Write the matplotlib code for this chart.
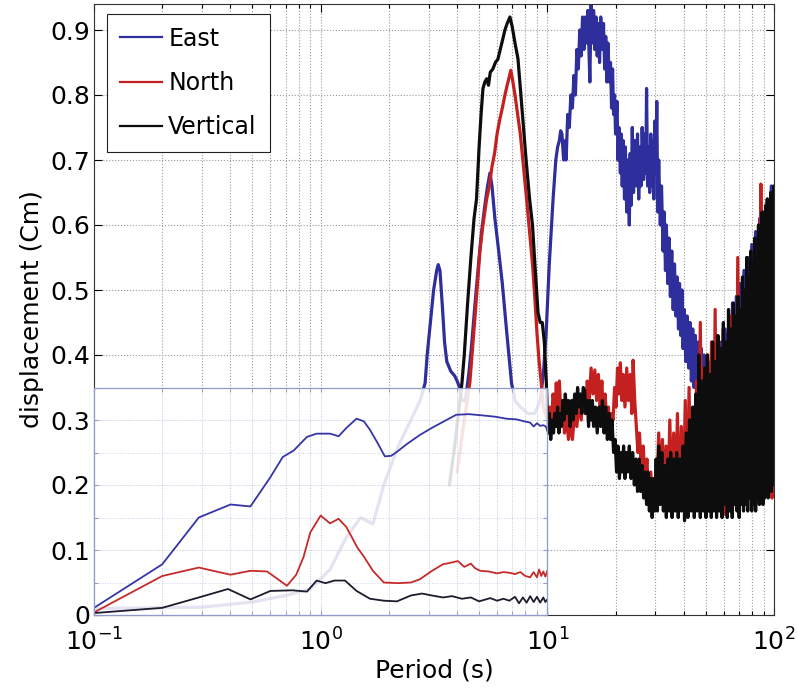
import matplotlib
matplotlib.use("Agg")
import matplotlib.pyplot as plt
from matplotlib.ticker import FuncFormatter, LogLocator, NullFormatter, MultipleLocator
import numpy as np

plt.rcParams['font.family'] = ['DejaVu Sans']

# ---- main traces (Period in s, displacement in Cm) ----
east_x = [0.1, 0.3, 0.5, 0.7, 0.9, 1.1, 1.3, 1.5, 1.7, 1.9, 2.2, 2.5, 2.75, 2.89, 2.95, 3.05, 3.15, 3.25, 3.3, 3.36,
          3.45, 3.52, 3.6, 3.75, 3.9, 4.0, 4.1, 4.2, 4.35, 4.5, 4.62, 4.8, 5.0, 5.13, 5.3, 5.45, 5.58, 5.7, 5.87, 6.1,
          6.33, 6.6, 6.95, 7.2, 7.6, 8.2, 8.8, 9.3, 9.6, 9.88, 10.2, 10.6, 10.9, 11.1, 11.3, 11.45, 11.6, 11.8, 12.0, 12.1,
          12.3, 12.5, 12.7, 12.9, 13.1, 13.3, 13.5, 13.7, 13.9, 14.1, 14.3, 14.5, 14.7, 14.9, 15.1, 15.3, 15.4, 15.6, 15.8, 16.0,
          16.2, 16.4, 16.6, 16.8, 17.0, 17.2, 17.5, 17.7, 17.9, 18.1, 18.3, 18.5, 18.8, 19.0, 19.2, 19.4, 19.6, 19.8, 20.0, 20.3,
          20.5, 20.7, 21.0, 21.2, 21.4, 21.6, 21.9, 22.1, 22.4, 22.7, 23.0, 23.2, 23.4, 23.7, 24.0, 24.3, 24.7, 25.0, 25.3, 25.6,
          25.9, 26.2, 26.6, 26.9, 27.2, 27.4, 27.7, 28.0, 28.3, 28.6, 28.9, 29.2, 29.5, 29.8, 30.1, 30.4, 30.7, 31.0, 31.5, 31.9,
          32.4, 32.8, 33.2, 33.5, 34.0, 34.4, 34.9, 35.4, 35.9, 36.4, 36.9, 37.4, 37.9, 38.3, 38.8, 39.3, 39.7, 40.2, 40.8, 41.4,
          42.0, 42.6, 43.2, 43.8, 44.4, 45.0, 45.7, 46.4, 47.1, 47.8, 48.5, 49.2, 49.9, 50.8, 51.7, 52.6, 53.5, 54.5, 55.5, 56.5,
          57.5, 58.6, 59.7, 60.8, 62.0, 63.2, 64.4, 65.6, 66.9, 68.2, 69.5, 70.9, 72.3, 73.7, 75.2, 76.7, 78.2, 79.8, 81.4, 83.0,
          84.7, 86.4, 88.1, 89.9, 91.7, 93.5, 95.4, 97.3, 99.2, 100.0]
east_y = [0.01, 0.012, 0.02, 0.03, 0.04, 0.07, 0.12, 0.15, 0.14, 0.2, 0.26, 0.3, 0.33, 0.357, 0.40, 0.45, 0.50, 0.53, 0.539, 0.53,
          0.47, 0.42, 0.39, 0.375, 0.368, 0.36, 0.35, 0.33, 0.33, 0.37, 0.41, 0.48, 0.55, 0.59, 0.63, 0.66, 0.68, 0.66, 0.61, 0.56,
          0.51, 0.44, 0.357, 0.33, 0.32, 0.31, 0.31, 0.33, 0.37, 0.434, 0.54, 0.64, 0.70, 0.72, 0.73, 0.745, 0.74, 0.70, 0.73, 0.70,
          0.77, 0.75, 0.80, 0.78, 0.83, 0.80, 0.87, 0.84, 0.90, 0.86, 0.92, 0.87, 0.92, 0.88, 0.93, 0.86, 0.82, 0.94, 0.88, 0.93,
          0.87, 0.92, 0.86, 0.91, 0.85, 0.92, 0.87, 0.91, 0.84, 0.89, 0.82, 0.88, 0.82, 0.85, 0.78, 0.84, 0.77, 0.80, 0.74, 0.79,
          0.70, 0.75, 0.68, 0.74, 0.66, 0.73, 0.64, 0.72, 0.62, 0.70, 0.60, 0.71, 0.63, 0.75, 0.65, 0.73, 0.66, 0.74, 0.64, 0.72,
          0.66, 0.75, 0.67, 0.74, 0.68, 0.81, 0.66, 0.72, 0.65, 0.74, 0.66, 0.73, 0.64, 0.76, 0.68, 0.79, 0.62, 0.70, 0.60, 0.66,
          0.56, 0.62, 0.53, 0.60, 0.51, 0.58, 0.49, 0.56, 0.47, 0.54, 0.46, 0.52, 0.44, 0.51, 0.43, 0.50, 0.41, 0.47, 0.39, 0.46,
          0.38, 0.45, 0.36, 0.44, 0.35, 0.43, 0.34, 0.42, 0.33, 0.41, 0.32, 0.40, 0.31, 0.39, 0.30, 0.39, 0.30, 0.38, 0.31, 0.40,
          0.32, 0.42, 0.33, 0.44, 0.34, 0.46, 0.35, 0.48, 0.36, 0.49, 0.37, 0.51, 0.38, 0.53, 0.40, 0.55, 0.41, 0.57, 0.43, 0.59,
          0.44, 0.61, 0.46, 0.62, 0.48, 0.64, 0.50, 0.66, 0.52, 0.60]

north_x = [4.0, 4.3, 4.55, 4.8, 5.05, 5.2, 5.4, 5.55, 5.7, 5.85, 6.0, 6.15, 6.33, 6.5, 6.65, 6.9, 7.05, 7.2, 7.4, 7.6,
           7.85, 8.1, 8.35, 8.6, 8.8, 9.0, 9.2, 9.4, 9.6, 9.8, 10.0, 10.2, 10.4, 10.6, 10.8, 10.95, 11.1, 11.3, 11.5, 11.7,
           11.9, 12.1, 12.4, 12.7, 12.9, 13.2, 13.5, 13.8, 14.1, 14.4, 14.7, 15.0, 15.3, 15.6, 15.9, 16.2, 16.5, 16.8, 17.1, 17.4,
           17.7, 18.0, 18.3, 18.6, 18.9, 19.2, 19.5, 19.8, 20.1, 20.4, 20.7, 21.0, 21.3, 21.6, 22.0, 22.4, 22.8, 23.2, 23.6, 23.9,
           24.3, 24.7, 25.1, 25.5, 26.0, 26.5, 27.0, 27.5, 28.0, 28.6, 29.2, 29.8, 30.4, 31.0, 31.6, 32.2, 32.8, 33.4, 34.0, 34.7,
           35.4, 36.1, 36.8, 37.5, 38.2, 39.0, 39.8, 40.6, 41.4, 42.2, 43.0, 43.8, 44.6, 45.5, 46.4, 47.3, 48.2, 49.1, 50.0, 51.0,
           52.0, 53.0, 54.0, 55.0, 56.0, 57.2, 58.4, 59.6, 60.8, 62.0, 63.2, 64.4, 65.6, 66.8, 68.0, 69.2, 70.4, 71.6, 72.8, 74.0,
           75.2, 76.4, 77.6, 78.8, 80.0, 81.2, 82.4, 83.6, 84.8, 86.0, 86.8, 87.5, 88.4, 89.6, 90.8, 92.0, 93.2, 94.4, 95.6, 96.8,
           98.0, 99.2, 100.0]
north_y = [0.22, 0.30, 0.357, 0.46, 0.563, 0.60, 0.64, 0.66, 0.69, 0.71, 0.74, 0.76, 0.78, 0.80, 0.815, 0.838, 0.82, 0.80, 0.77, 0.74,
           0.69, 0.64, 0.59, 0.54, 0.49, 0.434, 0.39, 0.357, 0.32, 0.31, 0.30, 0.32, 0.29, 0.34, 0.31, 0.357, 0.32, 0.36, 0.30, 0.33,
           0.28, 0.31, 0.27, 0.30, 0.27, 0.31, 0.29, 0.33, 0.30, 0.34, 0.31, 0.36, 0.33, 0.38, 0.34, 0.377, 0.33, 0.37, 0.32, 0.36,
           0.30, 0.34, 0.29, 0.32, 0.28, 0.31, 0.30, 0.35, 0.32, 0.38, 0.34, 0.388, 0.33, 0.37, 0.32, 0.38, 0.33, 0.37, 0.31, 0.392,
           0.33, 0.29, 0.25, 0.28, 0.22, 0.26, 0.20, 0.24, 0.18, 0.22, 0.17, 0.21, 0.19, 0.28, 0.19, 0.27, 0.17, 0.26, 0.17, 0.30,
           0.18, 0.28, 0.17, 0.31, 0.16, 0.29, 0.17, 0.33, 0.16, 0.35, 0.17, 0.30, 0.16, 0.36, 0.17, 0.45, 0.18, 0.38, 0.17, 0.40,
           0.16, 0.42, 0.17, 0.47, 0.16, 0.38, 0.17, 0.44, 0.155, 0.40, 0.17, 0.46, 0.16, 0.42, 0.17, 0.55, 0.16, 0.45, 0.18, 0.50,
           0.17, 0.47, 0.18, 0.52, 0.17, 0.50, 0.19, 0.54, 0.18, 0.58, 0.22, 0.663, 0.20, 0.56, 0.19, 0.52, 0.19, 0.58, 0.20, 0.55,
           0.18, 0.45, 0.21]

vert_x = [3.7, 3.9, 4.05, 4.2, 4.3, 4.45, 4.6, 4.75, 4.87, 5.0, 5.1, 5.2, 5.3, 5.4, 5.5, 5.6, 5.75, 5.9, 6.05, 6.2,
          6.35, 6.5, 6.65, 6.84, 7.0, 7.2, 7.42, 7.6, 7.85, 8.06, 8.35, 8.6, 8.85, 9.1, 9.3, 9.5, 9.7, 9.9, 10.0, 10.1,
          10.2, 10.35, 10.5, 10.65, 10.8, 10.95, 11.1, 11.25, 11.4, 11.55, 11.7, 11.85, 12.0, 12.2, 12.4, 12.6, 12.8, 13.0, 13.2, 13.4,
          13.6, 13.8, 14.0, 14.2, 14.4, 14.6, 14.8, 15.0, 15.2, 15.4, 15.6, 15.8, 16.0, 16.3, 16.6, 16.9, 17.2, 17.5, 17.8, 18.1,
          18.4, 18.7, 19.0, 19.3, 19.6, 19.9, 20.2, 20.5, 20.8, 21.1, 21.4, 21.7, 22.0, 22.3, 22.6, 23.0, 23.4, 23.8, 24.2, 24.6,
          25.0, 25.4, 25.8, 26.2, 26.6, 27.0, 27.4, 27.8, 28.2, 28.6, 29.0, 29.4, 29.8, 30.2, 30.6, 31.0, 31.5, 32.0, 32.5, 33.0,
          33.5, 34.0, 34.5, 35.0, 35.5, 36.0, 36.6, 37.2, 37.8, 38.4, 39.0, 39.7, 40.3, 41.0, 41.7, 42.4, 43.1, 43.8, 44.5, 45.2,
          45.9, 46.6, 47.3, 48.0, 48.7, 49.4, 50.1, 50.8, 51.5, 52.2, 52.9, 53.6, 54.3, 55.0, 55.8, 56.6, 57.4, 58.2, 59.0, 59.8,
          60.6, 61.4, 62.2, 63.0, 63.8, 64.6, 65.4, 66.2, 67.0, 67.8, 68.6, 69.4, 70.2, 71.0, 71.8, 72.6, 73.4, 74.2, 75.0, 75.8,
          76.6, 77.4, 78.2, 79.0, 79.8, 80.6, 81.4, 82.2, 83.0, 83.8, 84.6, 85.4, 86.2, 87.0, 87.8, 88.6, 89.4, 90.2, 91.0, 91.8,
          92.6, 93.4, 94.2, 95.0, 95.8, 96.6, 97.4, 98.2, 99.0, 99.6, 100.0]
vert_y = [0.20, 0.26, 0.31, 0.357, 0.40, 0.48, 0.55, 0.61, 0.64, 0.72, 0.77, 0.81, 0.82, 0.825, 0.815, 0.835, 0.84, 0.85, 0.855, 0.87,
          0.885, 0.90, 0.91, 0.92, 0.905, 0.88, 0.856, 0.81, 0.75, 0.70, 0.64, 0.60, 0.53, 0.465, 0.45, 0.45, 0.42, 0.357, 0.31, 0.28,
          0.31, 0.27, 0.30, 0.28, 0.31, 0.29, 0.32, 0.28, 0.31, 0.29, 0.33, 0.30, 0.34, 0.31, 0.33, 0.29, 0.33, 0.30, 0.34, 0.31,
          0.35, 0.32, 0.34, 0.31, 0.35, 0.346, 0.31, 0.33, 0.29, 0.33, 0.30, 0.33, 0.29, 0.32, 0.28, 0.32, 0.29, 0.33, 0.28, 0.32,
          0.27, 0.31, 0.27, 0.30, 0.25, 0.27, 0.22, 0.26, 0.21, 0.25, 0.22, 0.26, 0.21, 0.25, 0.22, 0.26, 0.21, 0.25, 0.20, 0.24,
          0.19, 0.24, 0.19, 0.23, 0.18, 0.22, 0.17, 0.22, 0.16, 0.21, 0.15, 0.21, 0.16, 0.24, 0.16, 0.26, 0.17, 0.25, 0.16, 0.23,
          0.15, 0.24, 0.16, 0.25, 0.15, 0.24, 0.16, 0.25, 0.15, 0.24, 0.16, 0.26, 0.145, 0.28, 0.15, 0.30, 0.16, 0.32, 0.15, 0.34,
          0.16, 0.40, 0.15, 0.36, 0.16, 0.38, 0.15, 0.40, 0.16, 0.37, 0.15, 0.42, 0.16, 0.39, 0.15, 0.43, 0.16, 0.41, 0.15, 0.45,
          0.17, 0.42, 0.15, 0.47, 0.16, 0.44, 0.15, 0.48, 0.17, 0.46, 0.16, 0.49, 0.15, 0.47, 0.17, 0.52, 0.16, 0.50, 0.17, 0.55,
          0.16, 0.52, 0.18, 0.56, 0.16, 0.54, 0.17, 0.58, 0.16, 0.55, 0.18, 0.60, 0.17, 0.57, 0.19, 0.62, 0.17, 0.59, 0.18, 0.63,
          0.19, 0.64, 0.18, 0.60, 0.20, 0.65, 0.19, 0.62, 0.20, 0.66, 0.30]

# ---- overlaid lower panel traces ----
ins_east_x = [0.1, 0.2, 0.29, 0.4, 0.49, 0.6, 0.68, 0.76, 0.87, 0.96, 1.1, 1.2, 1.3, 1.44, 1.55, 1.65, 1.78, 1.92, 2.05, 2.17,
              2.4, 2.74, 3.1, 3.46, 3.96, 4.5, 5.2, 5.9, 6.6, 7.3, 7.9, 8.4, 8.7, 9.0, 9.3, 9.6, 9.85, 10.0]
ins_east_y = [0.011, 0.078, 0.150, 0.170, 0.167, 0.212, 0.243, 0.253, 0.274, 0.279, 0.279, 0.275, 0.288, 0.302, 0.298, 0.285, 0.265, 0.244, 0.245, 0.251,
              0.263, 0.277, 0.288, 0.297, 0.308, 0.309, 0.307, 0.305, 0.302, 0.301, 0.298, 0.296, 0.290, 0.295, 0.291, 0.292, 0.290, 0.283]

ins_north_x = [0.1, 0.2, 0.29, 0.4, 0.49, 0.58, 0.71, 0.78, 0.84, 0.9, 1.0, 1.1, 1.2, 1.3, 1.45, 1.55, 1.7, 1.9, 2.2, 2.5,
               2.74, 3.1, 3.46, 3.7, 4.03, 4.3, 4.6, 4.8, 5.05, 5.5, 6.0, 6.4, 6.8, 7.2, 7.6, 8.0, 8.4, 8.7, 9.0, 9.2,
               9.4, 9.6, 9.8, 10.0]
ins_north_y = [0.004, 0.060, 0.073, 0.062, 0.068, 0.067, 0.045, 0.062, 0.089, 0.127, 0.153, 0.141, 0.148, 0.135, 0.104, 0.090, 0.068, 0.050, 0.049, 0.050,
               0.055, 0.068, 0.078, 0.080, 0.083, 0.074, 0.079, 0.072, 0.068, 0.067, 0.064, 0.066, 0.065, 0.063, 0.066, 0.060, 0.058, 0.066, 0.058, 0.070,
               0.060, 0.067, 0.059, 0.068]

ins_vert_x = [0.1, 0.2, 0.29, 0.39, 0.49, 0.6, 0.75, 0.87, 0.96, 1.05, 1.15, 1.28, 1.44, 1.65, 1.9, 2.17, 2.5, 2.8, 3.1, 3.46,
              3.8, 4.2, 4.6, 5.0, 5.6, 6.0, 6.4, 6.8, 7.2, 7.5, 7.8, 8.1, 8.4, 8.7, 9.0, 9.3, 9.6, 9.8, 10.0]
ins_vert_y = [0.003, 0.011, 0.027, 0.040, 0.024, 0.037, 0.038, 0.036, 0.053, 0.049, 0.053, 0.053, 0.037, 0.025, 0.022, 0.021, 0.030, 0.033, 0.030, 0.027,
              0.029, 0.025, 0.027, 0.021, 0.026, 0.022, 0.025, 0.022, 0.028, 0.018, 0.027, 0.019, 0.029, 0.020, 0.028, 0.019, 0.027, 0.020, 0.024]

BLUE = '#2e2e9c'
RED = '#c4201f'
BLACK = '#0d0d0d'

fig = plt.figure(figsize=(7.98, 6.91), dpi=100)
ax = fig.add_axes([94/798, 76/691, 680/798, 611/691])

ax.plot(east_x, east_y, color=BLUE, lw=2.3, label='East')
ax.plot(north_x, north_y, color=RED, lw=2.3, label='North')
ax.plot(vert_x, vert_y, color=BLACK, lw=2.3, label='Vertical')

ax.set_xscale('log')
ax.set_xlim(0.1, 100)
ax.set_ylim(0, 0.94)
ax.set_yticks([0, 0.1, 0.2, 0.3, 0.4, 0.5, 0.6, 0.7, 0.8, 0.9])
ax.yaxis.set_major_formatter(FuncFormatter(lambda v, p: '0' if v == 0 else '%.1f' % v))
ax.xaxis.set_minor_locator(LogLocator(base=10, subs=range(2, 10)))
ax.xaxis.set_minor_formatter(NullFormatter())
ax.tick_params(which='both', direction='in', top=True, right=True, labelsize=18, width=0.8)
ax.tick_params(which='major', length=6)
ax.tick_params(which='minor', length=3)
ax.tick_params(axis='y', which='major', pad=3)
ax.tick_params(axis='x', which='major', pad=10)
ax.grid(True, which='major', axis='both', ls=':', color='#9a9a9a', lw=0.8)
ax.grid(True, which='minor', axis='x', ls=':', color='#9a9a9a', lw=0.8)
for s in ax.spines.values():
    s.set_color('#333333')
    s.set_linewidth(0.8)

ax.set_xlabel('Period (s)', fontsize=18, labelpad=2)
ax.set_ylabel('displacement (Cm)', fontsize=18, labelpad=4)

leg = ax.legend(loc='upper left', fontsize=17, fancybox=False, framealpha=1, edgecolor='#222222',
                handlelength=1.8, handletextpad=0.25, borderpad=0.55, labelspacing=0.85,
                borderaxespad=0, bbox_to_anchor=(0.019, 0.984))
leg.get_frame().set_linewidth(0.8)
for ln in leg.get_lines():
    ln.set_linewidth(1.6)

# semi-transparent lower-left panel
ins = ax.inset_axes([0, 0, 2/3, 0.35/0.94])
ins.patch.set_facecolor('white')
ins.patch.set_alpha(0.87)
ins.plot(ins_east_x, ins_east_y, color='#3535a8', lw=1.3)
ins.plot(ins_north_x, ins_north_y, color='#c62a2a', lw=1.3)
ins.plot(ins_vert_x, ins_vert_y, color='#1c1c2c', lw=1.3)
ins.set_xscale('log')
ins.set_xlim(0.1, 10)
ins.set_ylim(0, 0.35)
ins.yaxis.set_major_locator(MultipleLocator(0.05))
ins.xaxis.set_minor_locator(LogLocator(base=10, subs=range(2, 10)))
ins.tick_params(which='both', direction='in', top=True, right=True, labelleft=False, labelbottom=False,
                color='#8f9ccc', length=3)
ins.grid(True, which='major', ls=':', color='#c8cfe6', lw=0.7)
ins.grid(True, which='minor', axis='x', ls=':', color='#c8cfe6', lw=0.7)
for s in ins.spines.values():
    s.set_color('#8f9ccc')
    s.set_linewidth(0.9)

fig.savefig('out.png', dpi=100)
